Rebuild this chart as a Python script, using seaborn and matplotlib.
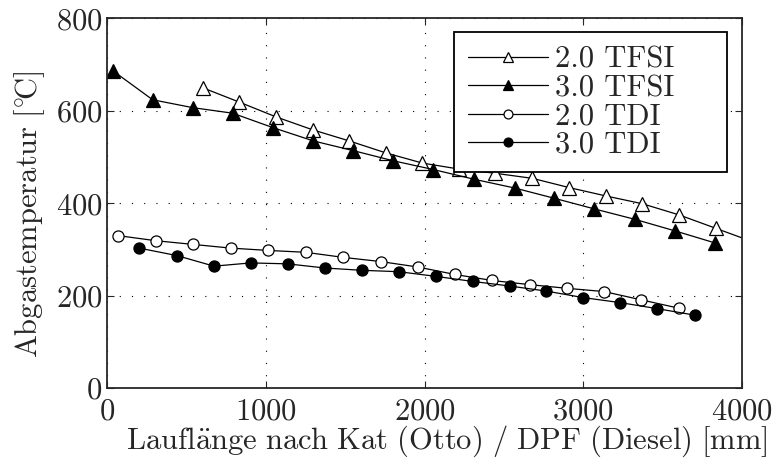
import numpy as np
import pandas as pd
import matplotlib
matplotlib.use("Agg")
import matplotlib.pyplot as plt
import seaborn as sns

# data
tfsi20_x = [604, 834, 1065, 1296, 1526, 1757, 1987, 2218, 2444, 2679, 2910, 3140, 3371, 3601, 3832, 4062]
tfsi20_y = [650, 619, 587, 559, 535, 509, 487, 474, 465, 454, 434, 416, 399, 375, 346, 317]

tfsi30_x = [38, 289, 541, 792, 1044, 1300, 1551, 1803, 2056, 2312, 2568, 2815, 3067, 3327, 3579, 3830]
tfsi30_y = [687, 624, 607, 595, 564, 535, 514, 492, 473, 452, 433, 411, 388, 365, 340, 314]

tdi20_x = [73, 310, 545, 782, 1017, 1251, 1488, 1723, 1960, 2191, 2425, 2662, 2897, 3130, 3365, 3601]
tdi20_y = [330, 319, 311, 303, 298, 294, 283, 274, 262, 246, 233, 224, 216, 209, 191, 173]

tdi30_x = [205, 440, 675, 906, 1138, 1373, 1606, 1838, 2069, 2302, 2536, 2767, 2998, 3233, 3465, 3700]
tdi30_y = [303, 287, 264, 271, 269, 260, 255, 252, 242, 231, 221, 210, 196, 185, 172, 158]

labels = ["2.0 TFSI", "3.0 TFSI", "2.0 TDI", "3.0 TDI"]

sns.set_style("ticks")
plt.rcParams["font.family"] = ["cmr10", "DejaVu Serif"]
plt.rcParams["mathtext.fontset"] = "cm"
plt.rcParams["axes.formatter.use_mathtext"] = True
plt.rcParams["xtick.direction"] = "in"
plt.rcParams["ytick.direction"] = "in"

fig = plt.figure(figsize=(7.79, 4.61), dpi=100)
ax = fig.add_axes([0.137, 0.158, 0.816, 0.802])

series = [
    (tfsi20_x, tfsi20_y, "^", "white"),
    (tfsi30_x, tfsi30_y, "^", "black"),
    (tdi20_x, tdi20_y, "o", "white"),
    (tdi30_x, tdi30_y, "o", "black"),
]

for (xs, ys, m, fc), lab in zip(series, labels):
    df = pd.DataFrame({"x": xs, "y": ys})
    sns.lineplot(data=df, x="x", y="y", ax=ax, color="black", lw=0.9,
                 marker=m, markersize=9.5 if m == "^" else 8,
                 markerfacecolor=fc, markeredgecolor="black", markeredgewidth=0.9,
                 sort=False, label=lab)

ax.set_xlim(0, 4000)
ax.set_ylim(0, 800)
ax.set_xticks([0, 1000, 2000, 3000, 4000])
ax.set_yticks([0, 200, 400, 600, 800])
ax.grid(True, color="black", linestyle=(0, (1, 10)), linewidth=0.8)
ax.tick_params(labelsize=22, top=True, right=True, length=5, width=0.8)
ax.tick_params(axis="x", pad=7)
ax.tick_params(axis="y", pad=3)
for s in ax.spines.values():
    s.set_linewidth(1.3)

# cmr10 has no proper umlaut / degree glyphs, so use mathtext for those
ax.set_xlabel(r"$\mathrm{Laufl\ddot{a}nge\ nach\ Kat\ (Otto)\ /\ DPF\ (Diesel)\ [mm]}$", fontsize=22)
ax.xaxis.set_label_coords(0.535, -0.095)
ax.set_ylabel(r"$\mathrm{Abgastemperatur\ [^{\circ}\!C]}$", fontsize=22)
ax.yaxis.set_label_coords(-0.094, 0.47)

leg = ax.legend(loc="upper left", bbox_to_anchor=(0.547, 0.5, 0.429, 0.462),
                mode="expand", borderaxespad=0,
                fontsize=22, handlelength=2.6, frameon=True,
                fancybox=False, edgecolor="black", framealpha=1,
                borderpad=0.45, labelspacing=0.03, handletextpad=0.25,
                markerscale=0.8)
leg.get_frame().set_linewidth(1.3)

fig.savefig("out.png", dpi=100)
